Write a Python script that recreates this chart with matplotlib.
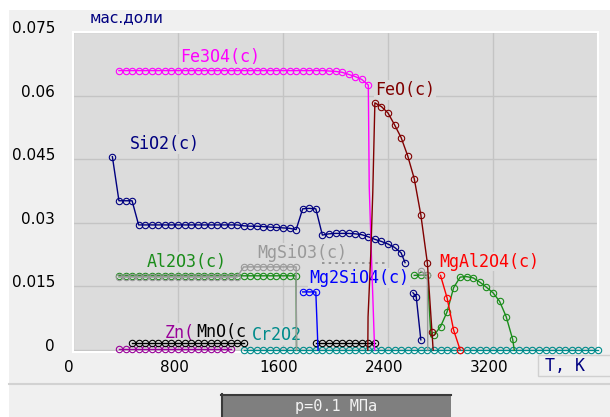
import numpy as np
import matplotlib
matplotlib.use('Agg')
import matplotlib.pyplot as plt
import matplotlib.transforms as mtransforms
from matplotlib.patches import Rectangle
from matplotlib.lines import Line2D

nan = float('nan')

# Temperature (K) and mass fraction of each phase.
# Points off the 5 K grid are steep transition points, drawn without a marker.
fe3o4_T = [350, 400, 450, 500, 550, 600, 650, 700, 750, 800, 850, 900, 950, 1000,
           1050, 1100, 1150, 1200, 1250, 1300, 1350, 1400, 1450, 1500, 1550, 1600,
           1650, 1700, 1750, 1800, 1850, 1900, 1950, 2000, 2050, 2100, 2150, 2200,
           2250, 2257, 2273, 2298]
fe3o4_w = [0.0659, 0.0659, 0.0659, 0.0659, 0.0659, 0.0659, 0.0659, 0.0659,
           0.0659, 0.0659, 0.0659, 0.0659, 0.0659, 0.0659, 0.0659, 0.0659,
           0.0659, 0.0659, 0.0659, 0.0659, 0.0659, 0.0659, 0.0659, 0.0659,
           0.0659, 0.0659, 0.0659, 0.0659, 0.0659, 0.0659, 0.0659, 0.0659,
           0.0658, 0.0657, 0.0655, 0.0650, 0.0645, 0.0638, 0.0625, 0.0385, 0.0230, 0.0]

feo_T = [2246, 2248, 2268, 2284, 2300, 2350, 2400, 2450, 2500, 2550, 2600, 2650,
         2700, 2735, 2744]
feo_w = [0.0, 0.0078, 0.0221, 0.0371, 0.0583, 0.0574, 0.0559, 0.0531, 0.0501,
         0.0458, 0.0404, 0.0319, 0.0205, 0.0043, 0.0]

sio2_T = [300, 350, 400, 450, 500, 550, 600, 650, 700, 750, 800, 850, 900, 950,
          1000, 1050, 1100, 1150, 1200, 1250, 1300, 1350, 1400, 1450, 1500, 1550,
          1600, 1650, 1700, 1750, 1800, 1850, 1900, 1950, 2000, 2050, 2100, 2150,
          2200, 2250, 2300, 2350, 2400, 2450, 2500, 2530, 2560, 2590, 2615, 2650]
sio2_w = [0.0456, 0.0352, 0.0352, 0.0352, 0.0295, 0.0295, 0.0295, 0.0295,
          0.0295, 0.0295, 0.0295, 0.0295, 0.0295, 0.0295, 0.0295, 0.0295,
          0.0295, 0.0295, 0.0295, 0.0295, 0.0293, 0.0292, 0.0292, 0.0291,
          0.0290, 0.0289, 0.0288, 0.0287, 0.0284, 0.0333, 0.0334, 0.0333,
          0.0271, 0.0274, 0.0275, 0.0275, 0.0275, 0.0274, 0.0272, 0.0267,
          0.0261, 0.0256, 0.0250, 0.0242, 0.0229, 0.0206, nan, 0.0135, 0.0126, 0.0024]

al2o3_T = [350, 400, 450, 500, 550, 600, 650, 700, 750, 800, 850, 900, 950, 1000,
           1050, 1100, 1150, 1200, 1250, 1300, 1350, 1400, 1450, 1500, 1550, 1600,
           1650, 1700, 1703, 1710, 2600, 2650, 2700, 2727, 2750, 2800, 2850, 2900,
           2950, 3000, 3050, 3100, 3150, 3200, 3250, 3300, 3350, 3362]
al2o3_w = [0.0175, 0.0175, 0.0175, 0.0175, 0.0175, 0.0175, 0.0175, 0.0175,
           0.0175, 0.0175, 0.0175, 0.0175, 0.0175, 0.0175, 0.0175, 0.0175,
           0.0175, 0.0175, 0.0175, 0.0175, 0.0175, 0.0175, 0.0175, 0.0175,
           0.0175, 0.0175, 0.0175, 0.0175, 0.0, nan, 0.0176, 0.0177, 0.0177,
           0.0031, 0.0035, 0.0055, 0.0090, 0.0147, 0.0172, 0.0173, 0.0170,
           0.0160, 0.0148, 0.0135, 0.0115, 0.0079, 0.0025, 0.0]

mgsio3_T = [350, 400, 450, 500, 550, 600, 650, 700, 750, 800, 850, 900, 950, 1000,
            1050, 1100, 1150, 1200, 1250, 1300, 1350, 1400, 1450, 1500, 1550, 1600,
            1650, 1700, 1703, 1710, 2650, 2700, 2703]
mgsio3_w = [0.0172, 0.0172, 0.0172, 0.0172, 0.0172, 0.0172, 0.0172, 0.0172,
            0.0172, 0.0172, 0.0172, 0.0172, 0.0172, 0.0172, 0.0172, 0.0172,
            0.0172, 0.0172, 0.0172, 0.0196, 0.0196, 0.0196, 0.0196, 0.0196,
            0.0196, 0.0196, 0.0196, 0.0196, 0.0, nan, 0.0186, 0.0177, 0.0]
mgsio3_dot_T = [1900, 2400]
mgsio3_dot_w = [0.0205, 0.0205]

mg2sio4_T = [1750, 1800, 1850, 1867]
mg2sio4_w = [0.0137, 0.0137, 0.0137, 0.0]

mgal2o4_T = [2800, 2850, 2900, 2950]
mgal2o4_w = [0.0176, 0.0123, 0.0047, 0.0]

mno_T = [450, 500, 550, 600, 650, 700, 750, 800, 850, 900, 950, 1000, 1050, 1100,
         1150, 1200, 1250, 1300, 1325, 1850, 1900, 1950, 2000, 2050, 2100, 2150,
         2200, 2250, 2300]
mno_w = [0.00165, 0.00165, 0.00165, 0.00165, 0.00165, 0.00165, 0.00165, 0.00165,
         0.00165, 0.00165, 0.00165, 0.00165, 0.00165, 0.00165, 0.00165, 0.00165,
         0.00165, 0.00165, nan, 0.0016, 0.0016, 0.0016, 0.0016, 0.0016, 0.0016,
         0.0016, 0.0016, 0.0016, 0.0016]

zn_T = [350, 400, 450, 500, 550, 600, 650, 700, 750, 800, 850, 900, 950, 1000,
        1050, 1100, 1150, 1200]
zn_w = [0.0002, 0.0002, 0.0002, 0.0002, 0.0002, 0.0002, 0.0002, 0.0002, 0.0002,
        0.0002, 0.0002, 0.0002, 0.0002, 0.0002, 0.0002, 0.0002, 0.0002, 0.0002]

cr2o3_T = [1300, 1350, 1400, 1450, 1500, 1550, 1600, 1650, 1700, 1750, 1800, 1850,
           1900, 1950, 2000, 2050, 2100, 2150, 2200, 2250, 2300, 2350, 2400, 2450,
           2500, 2550, 2600, 2650, 2700, 2750, 2800, 2850, 2900, 2950, 3000, 3050,
           3100, 3150, 3200, 3250, 3300, 3350, 3400, 3450, 3500, 3550, 3600, 3650,
           3700, 3750, 3800, 3850, 3900, 3950, 4000]
cr2o3_w = [0.0, 0.0, 0.0, 0.0, 0.0, 0.0, 0.0, 0.0, 0.0, 0.0, 0.0, 0.0, 0.0, 0.0,
           0.0, 0.0, 0.0, 0.0, 0.0, 0.0, 0.0, 0.0, 0.0, 0.0, 0.0, 0.0, 0.0, 0.0,
           0.0, 0.0, 0.0, 0.0, 0.0, 0.0, 0.0, 0.0, 0.0, 0.0, 0.0, 0.0, 0.0, 0.0,
           0.0, 0.0, 0.0, 0.0, 0.0, 0.0, 0.0, 0.0, 0.0, 0.0, 0.0, 0.0, 0.0]

x_ticks = [0, 800, 1600, 2400, 3200]
y_ticks = [0, 0.015, 0.03, 0.045, 0.06, 0.075]
y_tick_labels = ['0', '0.015', '0.03', '0.045', '0.06', '0.075']

W, H = 610, 417
PLOT_BG = '#dcdcdc'
PANEL_BG = '#f0f0f0'
MONO = 'DejaVu Sans Mono'


def fx(px):
    return px / W


def fy(py):
    return 1 - py / H


def draw_series(ax, T, w, color, z=3, **kw):
    """Line with small hollow circles on the regular temperature points"""
    marks = [i for i, t in enumerate(T) if t % 5 == 0 and not np.isnan(w[i])]
    ax.plot(T, w, color=color, lw=1.0, marker='o', ms=4.6, mfc='none', mew=0.8,
            markevery=marks, clip_on=False, zorder=z, **kw)


def label(ax, x, y, s, color):
    ax.text(x, y, s, color=color, family=MONO, fontsize=12, va='center', ha='left',
            zorder=2.5, bbox=dict(facecolor=PLOT_BG, edgecolor='none', pad=0.5))


fig = plt.figure(figsize=(W / 100, H / 100), dpi=100, facecolor='white')

# grey window panel, leaves a thin white strip at the top and left
fig.add_artist(Rectangle((fx(9), 0), fx(W - 9), fy(10), transform=fig.transFigure,
                         facecolor=PANEL_BG, edgecolor='none', zorder=-10))

ax = fig.add_axes([fx(73), fy(352), fx(598 - 73), (352 - 32) / H])
ax.set_facecolor(PLOT_BG)
ax.set_xlim(0, 4000)
ax.set_ylim(-0.00047, 0.075)
for sp in ax.spines.values():
    sp.set_color('white')
    sp.set_linewidth(1.5)
ax.set_xticks(x_ticks)
ax.set_xticklabels([str(t) for t in x_ticks])
ax.set_yticks(y_ticks)
ax.set_yticklabels(y_tick_labels)
ax.tick_params(length=0, labelsize=11, labelcolor='black')
ax.tick_params(axis='x', pad=6)
ax.tick_params(axis='y', pad=13)
ax.grid(True, color='#c4c4c4', lw=1.0, zorder=0.5)
ax.set_axisbelow(True)

# nudge tick labels the way the original program places them
for t in ax.get_yticklabels():
    t.set_transform(t.get_transform() + mtransforms.ScaledTranslation(0, 5 / 100, fig.dpi_scale_trans))
for t in ax.get_xticklabels():
    t.set_transform(t.get_transform() + mtransforms.ScaledTranslation(-4 / 100, 0, fig.dpi_scale_trans))

# curves
draw_series(ax, cr2o3_T, cr2o3_w, '#008b8b', z=3.0)
draw_series(ax, zn_T, zn_w, '#990099', z=3.1)
draw_series(ax, mno_T, mno_w, 'black', z=3.2)
draw_series(ax, al2o3_T, al2o3_w, '#1a8c1a', z=3.3)
draw_series(ax, mgsio3_T, mgsio3_w, '#9a9a9a', z=3.4)
ax.plot(mgsio3_dot_T, mgsio3_dot_w, color='#8a8a8a', lw=1.2, ls=(0, (1.5, 2.5)), zorder=3.4)
draw_series(ax, sio2_T, sio2_w, '#000080', z=3.5)
draw_series(ax, mg2sio4_T, mg2sio4_w, '#0000ff', z=3.6)
draw_series(ax, mgal2o4_T, mgal2o4_w, '#ff0000', z=3.7)
draw_series(ax, fe3o4_T, fe3o4_w, '#ff00ff', z=3.8)
draw_series(ax, feo_T, feo_w, '#800000', z=3.9)

# phase labels
label(ax, 815, 0.0691, 'Fe3O4(c)', '#ff00ff')
label(ax, 2301, 0.0613, 'FeO(c)', '#800000')
label(ax, 434, 0.0486, 'SiO2(c)', '#000080')
label(ax, 564, 0.0208, 'Al2O3(c)', '#1a8c1a')
label(ax, 1402, 0.0229, 'MgSiO3(c)', '#9a9a9a')
label(ax, 1798, 0.0170, 'Mg2SiO4(c)', '#0000ff')
label(ax, 2789, 0.0208, 'MgAl2O4(c)', '#ff0000')
label(ax, 701, 0.0040, 'Zn(', '#990099')
label(ax, 937, 0.0042, 'MnO(c', 'black')
label(ax, 1360, 0.0035, 'Cr2O2', '#008b8b')

# axis captions
fig.text(fx(90), fy(18), 'мас.доли', color='#000080', fontsize=11, va='center', ha='left')
fig.add_artist(Rectangle((fx(538), fy(376)), fx(75), (376 - 355) / H, transform=fig.transFigure,
                         facecolor=PANEL_BG, edgecolor='#d0d0d0', lw=1.0))
fig.text(fx(545), fy(366), 'Т, К', color='#000080', family=MONO, fontsize=12,
         va='center', ha='left')

# separator and pressure box at the bottom
fig.add_artist(Line2D([fx(9), 1], [fy(384), fy(384)], color='#d2d2d2', lw=1.5))
fig.add_artist(Rectangle((fx(221), 0), fx(230), (417 - 394) / H, transform=fig.transFigure,
                         facecolor='#7f7f7f', edgecolor='none'))
fig.add_artist(Line2D([fx(221), fx(451)], [fy(395), fy(395)], color='#3a3a3a', lw=1.5))
fig.add_artist(Line2D([fx(222), fx(222)], [fy(394), 0], color='#3a3a3a', lw=1.5))
fig.text(fx(336), fy(407), 'p=0.1 МПа', color='#f2f2f2', family=MONO, fontsize=11,
         va='center', ha='center')

fig.savefig('out.png', dpi=100, facecolor=fig.get_facecolor())
plt.close(fig)
